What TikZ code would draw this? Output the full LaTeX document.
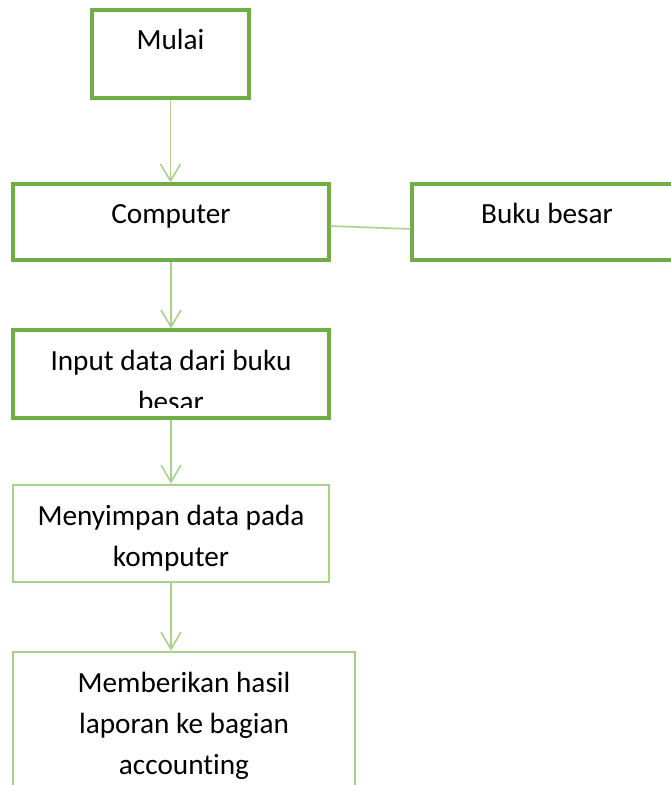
\documentclass[tikz,border=0pt]{standalone}
\usepackage{fontspec}
\setmainfont{Carlito}[Ligatures=NoCommon]
\usepackage{xcolor}
\usetikzlibrary{arrows.meta, positioning, calc}
\definecolor{boxgreen}{RGB}{112, 173, 71}
\definecolor{boxgreenlight}{RGB}{169, 209, 142}
\definecolor{linkgreen}{RGB}{169, 209, 142}
\tikzset{
    % Box with dark green border
    darkbox/.style={
        draw=boxgreen,
        line width=0.08cm,
        minimum width=#1,
        inner sep=0pt,
    },
    % Box with light green border
    lightbox/.style={
        draw=boxgreenlight,
        line width=0.07cm,
        minimum width=#1,
        inner sep=0pt,
    },
    % Text inside a box (anchored on the baseline of its last line)
    boxtext/.style={
        font=\fontsize{20.8}{41\dimexpr 0.025cm\relax}\selectfont,
        align=center,
        inner sep=0pt,
        anchor=base,
    },
    % Flow arrow (open head)
    flowarrow/.style={
        -{Straight Barb[length=0.42cm, width=0.5cm]},
        line width=0.04cm,
        linkgreen,
    },
    % Plain connector
    linkline/.style={
        line width=0.04cm,
        linkgreen,
    },
}

\begin{document}
\begin{tikzpicture}[x=0.025cm, y=-0.025cm]

\useasboundingbox (0,0) rectangle (671,785);

% =========================================================================
% BOXES
% =========================================================================

% --- Mulai ---
\node[darkbox=3.925cm, minimum height=2.2cm] (mulai) at (170.5,54) {};
\node[boxtext] (mulaitxt) at (170.5,49.5) {Mulai};

% --- Computer ---
\node[darkbox=7.9cm, minimum height=1.9cm] (computer) at (171,222) {};
\node[boxtext] (computertxt) at (171,223.5) {Computer};

% --- Buku besar ---
\node[darkbox=6.75cm, minimum height=1.9cm] (bukubesar) at (547,222) {};
\node[boxtext] (bukubesartxt) at (547,223.5) {Buku besar};

% --- Input data (text cut off by the box) ---
\node[darkbox=7.9cm, minimum height=2.2cm] (input) at (171,374) {};
\begin{scope}
    \clip (14,332) rectangle (328,407);
    \node[boxtext] (inputtxt) at (171,411) {Input data dari buku\\besar};
\end{scope}

% --- Menyimpan data ---
\node[lightbox=7.9cm, minimum height=2.425cm] (menyimpan) at (171,533.5) {};
\node[boxtext] (menyimpantxt) at (171,566) {Menyimpan data pada\\komputer};

% --- Memberikan hasil ---
\node[lightbox=8.55cm, minimum height=4.2cm] (memberikan) at (184,736) {};
\node[boxtext] (memberikantxt) at (184,774.5) {Memberikan hasil\\laporan ke bagian\\accounting};

% =========================================================================
% CONNECTORS
% =========================================================================
\draw[flowarrow] (mulai.south) -- (mulai.south |- computer.north);
\draw[flowarrow] (computer.south) -- (computer.south |- input.north);
\draw[flowarrow] (input.south) -- (input.south |- menyimpan.north);
\draw[flowarrow] (menyimpan.south) -- (menyimpan.south |- memberikan.north);

\draw[linkline] ([yshift=-0.1cm]computer.east) -- ([yshift=-0.175cm]bukubesar.west);

\end{tikzpicture}
\end{document}
